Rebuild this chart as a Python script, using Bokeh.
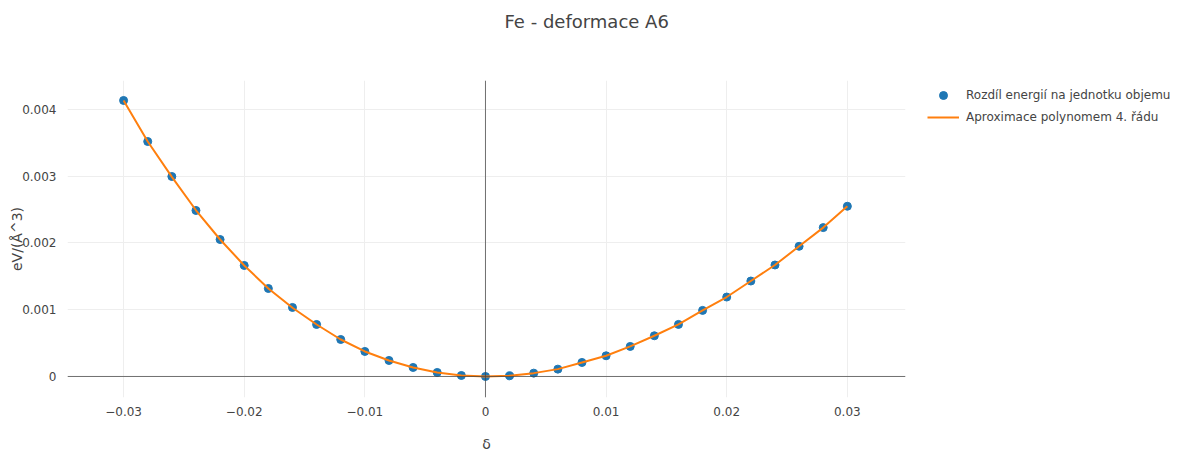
from bokeh.plotting import figure
from bokeh.models import (Range1d, FixedTicker, CustomJSTickFormatter, Span, Legend,
                          LegendItem, Title)
from bokeh.embed import file_html
from bokeh.resources import INLINE

# ---- data ----
delta = [-0.030, -0.028, -0.026, -0.024, -0.022, -0.020, -0.018, -0.016, -0.014, -0.012,
         -0.010, -0.008, -0.006, -0.004, -0.002, 0.000, 0.002, 0.004, 0.006, 0.008,
         0.010, 0.012, 0.014, 0.016, 0.018, 0.020, 0.022, 0.024, 0.026, 0.028, 0.030]
energy = [0.004135, 0.003520, 0.002996, 0.002487, 0.002052, 0.001663, 0.001318, 0.001034,
          0.000779, 0.000554, 0.000375, 0.000240, 0.000135, 0.000060, 0.000015, 0.000000,
          0.000010, 0.000050, 0.000110, 0.000210, 0.000310, 0.000450, 0.000610, 0.000780,
          0.000990, 0.001190, 0.001430, 0.001670, 0.001950, 0.002230, 0.002550]
fit = [0.004135, 0.003520, 0.002990, 0.002490, 0.002052, 0.001663, 0.001318, 0.001030,
       0.000779, 0.000554, 0.000375, 0.000240, 0.000135, 0.000060, 0.000015, 0.000000,
       0.000010, 0.000050, 0.000110, 0.000210, 0.000310, 0.000450, 0.000610, 0.000780,
       0.000990, 0.001190, 0.001430, 0.001670, 0.001950, 0.002230, 0.002550]
x_ticks = [-0.03, -0.02, -0.01, 0.0, 0.01, 0.02, 0.03]
y_ticks = [0.0, 0.001, 0.002, 0.003, 0.004]

title_text = "Fe - deformace A6"
x_label = "δ"
y_label = "eV/(Å^3)"
series_points = "Rozdíl energií na jednotku objemu"
series_fit = "Aproximace polynomem 4. řádu"

FONT = "DejaVu Sans"
TXT = "#444444"

p = figure(frame_width=838, frame_height=317, output_backend="svg", toolbar_location=None,
           x_range=Range1d(-0.03465, 0.03482), y_range=Range1d(-0.000315, 0.004434),
           min_border_left=67, min_border_right=266, min_border_top=80,
           min_border_bottom=45)
p.outline_line_color = None
p.background_fill_color = "white"
p.title.text = ""

# spacer (nearest to the frame) then the real title (outer)
spacer = Title(text=" ", standoff=22, text_font=FONT, text_font_size="17px",
               text_color="white")
p.add_layout(spacer, "above")
t = Title(text=title_text, align="left", offset=437, text_font=FONT,
          text_font_size="18px", text_color=TXT, text_font_style="normal",
          vertical_align="middle", standoff=8)
p.add_layout(t, "above")

for ax in (p.xaxis[0], p.yaxis[0]):
    ax.axis_line_color = None
    ax.major_tick_line_color = None
    ax.minor_tick_line_color = None
    ax.major_label_text_font = FONT
    ax.major_label_text_font_size = "12px"
    ax.major_label_text_color = TXT
    ax.axis_label_text_font = FONT
    ax.axis_label_text_font_size = "14px"
    ax.axis_label_text_font_style = "normal"
    ax.axis_label_text_color = TXT

p.xaxis.ticker = FixedTicker(ticks=x_ticks)
p.yaxis.ticker = FixedTicker(ticks=y_ticks)
p.xaxis.formatter = CustomJSTickFormatter(code="""
    if (Math.abs(tick) < 1e-12) return "0";
    return (tick < 0 ? "\u2212" : "") + Math.abs(tick).toFixed(2);
""")
p.yaxis.formatter = CustomJSTickFormatter(code="""
    if (Math.abs(tick) < 1e-12) return "0";
    return (tick < 0 ? "\u2212" : "") + Math.abs(tick).toFixed(3);
""")
p.xaxis.major_label_standoff = 3
p.yaxis.major_label_standoff = 5
p.xaxis.axis_label = x_label
p.yaxis.axis_label = y_label
p.xaxis.axis_label_standoff = 17
p.yaxis.axis_label_standoff = -6

p.xgrid.grid_line_color = "#eeeeee"
p.ygrid.grid_line_color = "#eeeeee"
p.xgrid.grid_line_width = 1
p.ygrid.grid_line_width = 1

p.add_layout(Span(location=0, dimension="height", line_color=TXT, line_width=1, line_alpha=0.75))
p.add_layout(Span(location=0, dimension="width", line_color=TXT, line_width=1, line_alpha=0.75))

r_pts = p.scatter(delta, energy, size=8, color="#1f77b4")
r_fit = p.line(delta, fit, line_color="#ff7f0e", line_width=2)

legend = Legend(items=[LegendItem(label=series_points, renderers=[r_pts]),
                       LegendItem(label=series_fit, renderers=[r_fit])],
                location=(22, 270), padding=0, spacing=2, glyph_width=32,
                glyph_height=20, label_standoff=7, border_line_color=None,
                background_fill_alpha=0, label_text_font=FONT,
                label_text_font_size="12px", label_text_color=TXT, margin=0)
p.add_layout(legend, "right")

open("out.html", "w").write(file_html(p, INLINE))
